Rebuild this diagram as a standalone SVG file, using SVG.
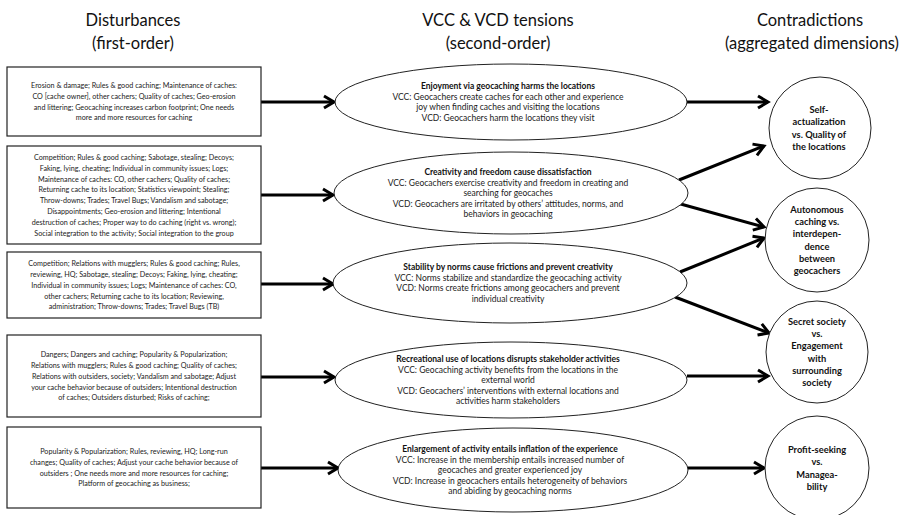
<svg xmlns="http://www.w3.org/2000/svg" width="903" height="515" viewBox="0 0 903 515">
<style>
.hdr{font-family:Lato,"Liberation Sans",sans-serif;font-size:16.5px;fill:#111;text-anchor:middle}
.bt{font-family:Lato,"Liberation Sans",sans-serif;font-size:7.2px;fill:#222;text-anchor:middle}
.et{font-family:Lato,"Liberation Sans",sans-serif;font-size:8.5px;fill:#222;text-anchor:middle}
.etb{font-weight:bold;fill:#111}
.ct{font-family:Lato,"Liberation Sans",sans-serif;font-size:9.3px;font-weight:bold;fill:#111;text-anchor:middle}
.box{fill:#fff;stroke:#222;stroke-width:1.2}
.ell{fill:#fff;stroke:#222;stroke-width:1}
.conn{stroke:#000;stroke-width:3;fill:none;marker-end:url(#ah)}
</style>
<defs>
<marker id="ah" markerUnits="userSpaceOnUse" markerWidth="16" markerHeight="16" viewBox="0 0 16 16" refX="13" refY="8" orient="auto">
<path d="M3,2 L13,8 L3,14" fill="none" stroke="#000" stroke-width="3"/>
</marker>
</defs>
<rect width="903" height="515" fill="#fff"/>
<g id="headers">
<text class="hdr" x="133" y="26">Disturbances</text>
<text class="hdr" x="133" y="49">(first-order)</text>
<text class="hdr" x="498" y="26">VCC &amp; VCD tensions</text>
<text class="hdr" x="498" y="49">(second-order)</text>
<text class="hdr" x="810" y="26">Contradictions</text>
<text class="hdr" x="812" y="49">(aggregated dimensions)</text>
</g>
<g id="connectors">
<line class="conn" x1="261" y1="102" x2="334" y2="102"/>
<line class="conn" x1="261" y1="195" x2="333" y2="195"/>
<line class="conn" x1="261" y1="284" x2="333" y2="284"/>
<line class="conn" x1="261" y1="377" x2="334" y2="377"/>
<line class="conn" x1="261" y1="468" x2="338" y2="468"/>
<line class="conn" x1="687" y1="102" x2="768" y2="102"/>
<line class="conn" x1="679" y1="180" x2="764" y2="146"/>
<line class="conn" x1="677" y1="203" x2="764" y2="227"/>
<line class="conn" x1="680" y1="272" x2="764" y2="238"/>
<line class="conn" x1="675" y1="297" x2="769" y2="333"/>
<line class="conn" x1="687" y1="376" x2="768" y2="376"/>
<line class="conn" x1="688" y1="468" x2="764" y2="468"/>
</g>
<g id="box1">
<rect class="box" x="7" y="67" width="254" height="69"/>
<text class="bt"><tspan x="134" y="88">Erosion &amp; damage; Rules &amp; good caching; Maintenance of caches:</tspan><tspan x="134" y="98.8">CO [cache owner], other cachers; Quality of caches; Geo-erosion</tspan><tspan x="134" y="109.6">and littering; Geocaching increases carbon footprint; One needs</tspan><tspan x="134" y="120.4">more and more resources for caching</tspan></text>
</g>
<g id="box2">
<rect class="box" x="7" y="146" width="254" height="98"/>
<text class="bt"><tspan x="134" y="159.9">Competition; Rules &amp; good caching; Sabotage, stealing; Decoys;</tspan><tspan x="134" y="170.7">Faking, lying, cheating; Individual in community issues; Logs;</tspan><tspan x="134" y="181.5">Maintenance of caches: CO, other cachers; Quality of caches;</tspan><tspan x="134" y="192.3">Returning cache to its location; Statistics viewpoint; Stealing;</tspan><tspan x="134" y="203.1">Throw-downs; Trades; Travel Bugs; Vandalism and sabotage;</tspan><tspan x="134" y="213.9">Disappointments; Geo-erosion and littering; Intentional</tspan><tspan x="134" y="224.7">destruction of caches; Proper way to do caching (right vs. wrong);</tspan><tspan x="134" y="235.5">Social integration to the activity; Social integration to the group</tspan></text>
</g>
<g id="box3">
<rect class="box" x="7" y="252" width="254" height="66"/>
<text class="bt"><tspan x="134" y="266.1">Competition; Relations with mugglers; Rules &amp; good caching; Rules,</tspan><tspan x="134" y="276.9">reviewing, HQ; Sabotage, stealing; Decoys; Faking, lying, cheating;</tspan><tspan x="134" y="287.7">Individual in community issues; Logs; Maintenance of caches: CO,</tspan><tspan x="134" y="298.5">other cachers; Returning cache to its location; Reviewing,</tspan><tspan x="134" y="309.3">administration; Throw-downs; Trades; Travel Bugs (TB)</tspan></text>
</g>
<g id="box4">
<rect class="box" x="7" y="335" width="254" height="82"/>
<text class="bt"><tspan x="134" y="357.1">Dangers; Dangers and caching; Popularity &amp; Popularization;</tspan><tspan x="134" y="367.9">Relations with mugglers; Rules &amp; good caching; Quality of caches;</tspan><tspan x="134" y="378.7">Relations with outsiders, society; Vandalism and sabotage; Adjust</tspan><tspan x="134" y="389.5">your cache behavior because of outsiders; Intentional destruction</tspan><tspan x="134" y="400.3">of caches; Outsiders disturbed; Risks of caching;</tspan></text>
</g>
<g id="box5">
<rect class="box" x="7" y="427" width="254" height="81"/>
<text class="bt"><tspan x="134" y="454">Popularity &amp; Popularization; Rules, reviewing, HQ; Long-run</tspan><tspan x="134" y="464.8">changes; Quality of caches; Adjust your cache behavior because of</tspan><tspan x="134" y="475.6">outsiders ; One needs more and more resources for caching;</tspan><tspan x="134" y="486.4">Platform of geocaching as business;</tspan></text>
</g>
<g id="tension1">
<ellipse class="ell" cx="511" cy="102" rx="176" ry="38"/>
<text class="et"><tspan class="etb" x="508" y="89.3">Enjoyment via geocaching harms the locations</tspan><tspan x="508" y="99.8">VCC: Geocachers create caches for each other and experience</tspan><tspan x="508" y="110.3">joy when finding caches and visiting the locations</tspan><tspan x="508" y="120.8">VCD: Geocachers harm the locations they visit</tspan></text>
</g>
<g id="tension2">
<ellipse class="ell" cx="511" cy="193" rx="177" ry="41"/>
<text class="et"><tspan class="etb" x="508" y="175">Creativity and freedom cause dissatisfaction</tspan><tspan x="508" y="185.5">VCC: Geocachers exercise creativity and freedom in creating and</tspan><tspan x="508" y="196">searching for geocaches</tspan><tspan x="508" y="206.5">VCD: Geocachers are irritated by others’ attitudes, norms, and</tspan><tspan x="508" y="217">behaviors in geocaching</tspan></text>
</g>
<g id="tension3">
<ellipse class="ell" cx="510" cy="283" rx="177" ry="40"/>
<text class="et"><tspan class="etb" x="508" y="270.3">Stability by norms cause frictions and prevent creativity</tspan><tspan x="508" y="280.8">VCC: Norms stabilize and standardize the geocaching activity</tspan><tspan x="508" y="291.3">VCD: Norms create frictions among geocachers and prevent</tspan><tspan x="508" y="301.8">individual creativity</tspan></text>
</g>
<g id="tension4">
<ellipse class="ell" cx="511" cy="380" rx="176" ry="38"/>
<text class="et"><tspan class="etb" x="508" y="362">Recreational use of locations disrupts stakeholder activities</tspan><tspan x="508" y="372.5">VCC: Geocaching activity benefits from the locations in the</tspan><tspan x="508" y="383">external world</tspan><tspan x="508" y="393.5">VCD: Geocachers’ interventions with external locations and</tspan><tspan x="508" y="404">activities harm stakeholders</tspan></text>
</g>
<g id="tension5">
<ellipse class="ell" cx="513" cy="470" rx="175" ry="42"/>
<text class="et"><tspan class="etb" x="510" y="452">Enlargement of activity entails inflation of the experience</tspan><tspan x="510" y="462.5">VCC: Increase in the membership entails increased number of</tspan><tspan x="510" y="473">geocaches and greater experienced joy</tspan><tspan x="510" y="483.5">VCD: Increase in geocachers entails heterogeneity of behaviors</tspan><tspan x="510" y="494">and abiding by geocaching norms</tspan></text>
</g>
<g id="contradiction1">
<circle class="ell" cx="820" cy="128" r="51"/>
<text class="ct"><tspan x="819" y="112.9">Self-</tspan><tspan x="819" y="125.2">actualization</tspan><tspan x="819" y="137.5">vs. Quality of</tspan><tspan x="819" y="149.8">the locations</tspan></text>
</g>
<g id="contradiction2">
<circle class="ell" cx="817" cy="240" r="52"/>
<text class="ct"><tspan x="817" y="212.6">Autonomous</tspan><tspan x="817" y="224.9">caching vs.</tspan><tspan x="817" y="237.2">interdepen-</tspan><tspan x="817" y="249.5">dence</tspan><tspan x="817" y="261.8">between</tspan><tspan x="817" y="274.1">geocachers</tspan></text>
</g>
<g id="contradiction3">
<circle class="ell" cx="817" cy="352" r="51"/>
<text class="ct"><tspan x="817" y="324.6">Secret society</tspan><tspan x="817" y="336.9">vs.</tspan><tspan x="817" y="349.2">Engagement</tspan><tspan x="817" y="361.5">with</tspan><tspan x="817" y="373.8">surrounding</tspan><tspan x="817" y="386.1">society</tspan></text>
</g>
<g id="contradiction4">
<circle class="ell" cx="817" cy="468" r="52"/>
<text class="ct"><tspan x="817" y="452.9">Profit-seeking</tspan><tspan x="817" y="465.2">vs.</tspan><tspan x="817" y="477.5">Managea-</tspan><tspan x="817" y="489.8">bility</tspan></text>
</g>
</svg>
